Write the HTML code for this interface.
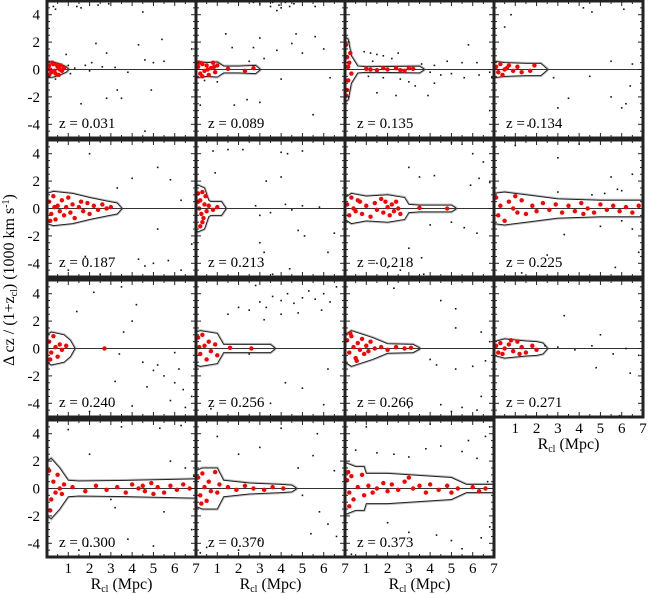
<!DOCTYPE html>
<html><head><meta charset="utf-8"><style>
body{margin:0;background:#fff;}
svg{display:block;font-family:"Liberation Serif",serif;}
</style></head><body>
<svg id="chart" width="648" height="594" viewBox="0 0 648 594" xmlns="http://www.w3.org/2000/svg"></svg>
<script>
const zLabels=["0.031","0.089","0.135","0.134","0.187","0.213","0.218","0.225","0.240","0.256","0.266","0.271","0.300","0.370","0.373"];
const envR=[
[0,0.3,0.6,0.9,1.0],[0,0.5,1.0,1.3,2.0,2.8,3.0],[0,0.15,0.3,0.6,1.0,3.5,3.7],[0,0.5,1.5,2.2,2.5],
[0,0.3,1.2,2.0,2.8,3.3,3.5],[0,0.1,0.4,0.6,0.7,1.2,1.4],[0,0.3,1.0,2.0,2.8,3.0,3.5,5.0,5.2],[0,0.5,1.5,3,5,6.5,7],
[0,0.2,0.8,1.1,1.3],[0,0.2,1.0,1.3,2.5,3.5,3.7],[0,0.3,1.3,2.0,3.2,3.5],[0,0.5,1.5,2.0,2.3,2.5],
[0,0.2,0.6,1.0,1.5,4.0,7.0],[0,0.3,1.0,1.3,2.5,4.0,4.5,4.7],[0,0.5,0.9,1.0,2.0,3.0,4.0,5.0,5.7,6.0,7.0]];
const envHW=[
[0.6,0.55,0.4,0.2,0.05],[0.6,0.5,0.55,0.25,0.25,0.3,0.05],[2.4,2.2,1.0,0.25,0.2,0.25,0.05],[0.6,0.5,0.45,0.45,0.05],
[1.1,1.25,1.1,0.8,0.55,0.4,0.05],[1.6,1.7,1.5,0.6,0.5,0.5,0.05],[0.8,1.1,0.9,1.0,0.8,0.3,0.25,0.25,0.05],[1.1,1.2,1.0,0.7,0.6,0.6,0.6],
[1.0,1.2,1.0,0.6,0.05],[1.2,1.3,1.1,0.3,0.3,0.3,0.05],[1.0,1.3,0.8,0.35,0.3,0.05],[0.5,0.7,0.55,0.5,0.4,0.05],
[2.0,2.2,1.5,0.6,0.55,0.6,0.7],[1.3,1.5,1.5,0.6,0.4,0.3,0.25,0.05],[1.9,1.6,1.6,1.1,1.1,1.0,0.9,0.8,0.3,0.3,0.3]];
const redPts=[
"0.1,0.3 0.2,-0.2 0.3,0.4 0.15,0.0 0.4,-0.3 0.5,0.2 0.6,0.0 0.25,0.5 0.35,-0.1 0.45,0.35 0.7,-0.1 0.55,-0.4 0.1,-0.4 0.8,0.1 0.65,0.3",
"0.1,0.2 0.2,-0.3 0.3,0.4 0.4,-0.1 0.5,0.3 0.6,-0.4 0.7,0.1 0.8,0.5 0.9,-0.2 1.0,0.3 0.3,-0.5 0.55,0.0 1.5,0.05 2.3,-0.1 2.7,0.1 0.15,0.5 0.85,0.2",
"0.05,1.8 0.1,0.9 0.15,-0.8 0.2,0.5 0.1,-1.5 0.25,1.2 0.3,-0.3 0.05,-1.9 0.15,0.2 1.0,0.05 1.5,-0.05 2.0,0.0 2.4,0.1 2.8,-0.1 3.2,0.05 1.8,0.1 2.6,-0.05 1.2,0.0 3.0,0.1",
"0.1,0.2 0.2,-0.2 0.3,0.4 0.5,0.0 0.7,0.3 0.9,-0.1 1.1,0.2 1.3,-0.2 0.4,-0.4 1.9,0.3 1.7,-0.1 0.6,0.1",
"0.1,0.5 0.2,-0.4 0.3,0.9 0.4,-0.8 0.5,0.2 0.6,-0.2 0.7,0.6 0.8,-0.5 0.9,0.1 1.0,0.8 1.1,-0.3 1.2,0.3 1.3,-0.7 1.5,0.1 1.6,0.5 1.7,-0.2 1.9,0.4 2.0,-0.4 2.2,0.2 2.4,-0.1 2.6,0.3 2.8,0.0 3.0,0.1 0.35,0.1 0.15,-0.9",
"0.1,1.1 0.2,0.6 0.3,1.2 0.15,0.0 0.25,-0.4 0.3,-1.0 0.4,0.3 0.2,-1.3 0.45,0.9 0.5,-0.2 0.6,0.2 0.8,-0.1 1.0,0.1 0.35,-0.7 0.1,0.5",
"0.1,0.3 0.2,-0.5 0.3,0.8 0.4,0.0 0.5,-0.2 0.7,0.5 0.8,-0.4 1.0,0.2 1.2,-0.6 1.4,0.4 1.5,-0.1 1.7,0.7 1.8,-0.3 2.0,0.1 2.1,-0.5 2.2,0.3 2.3,-0.2 2.4,0.5 2.5,0.0 2.6,-0.4 0.6,0.6 1.9,0.5 3.5,0.05 4.8,0.0",
"0.1,0.8 0.2,-0.5 0.3,0.2 0.5,-0.9 0.7,0.5 0.9,0.0 1.1,-0.3 1.3,0.6 1.5,-0.4 1.8,0.2 2.0,-0.2 2.3,0.4 2.6,-0.1 2.9,0.3 3.2,-0.3 3.5,0.2 3.8,-0.2 4.1,0.4 4.4,0.0 4.7,-0.3 5.0,0.3 5.3,-0.1 5.6,0.2 5.9,-0.2 6.2,0.1 6.5,-0.3 6.8,0.2 1.0,0.9 4.2,-0.4",
"0.1,0.5 0.2,-0.3 0.3,0.9 0.4,0.1 0.5,-0.6 0.6,0.3 0.7,-0.1 0.9,0.2 0.15,-0.8 2.7,0.0",
"0.1,0.8 0.2,-0.4 0.3,1.0 0.4,0.2 0.5,-0.8 0.6,0.5 0.7,-0.2 0.9,0.3 1.0,-0.5 0.15,0.1 1.6,0.05 2.6,0.0",
"0.1,0.6 0.2,-0.3 0.3,0.9 0.4,0.1 0.5,-0.7 0.6,0.4 0.7,-0.1 0.8,0.7 0.9,-0.4 1.0,0.2 1.1,-0.2 1.2,0.5 1.4,0.0 1.7,0.1 2.0,-0.1 2.4,0.1 2.8,0.0 3.1,0.05 0.25,1.1 0.55,-0.9",
"0.1,0.2 0.2,-0.3 0.3,0.4 0.5,0.0 0.7,0.3 0.9,-0.2 1.1,0.5 1.3,0.1 1.5,-0.3 1.8,0.2 2.0,-0.1 0.4,-0.4 0.8,0.6 1.2,-0.4",
"0.1,1.3 0.2,-0.8 0.3,0.5 0.4,-0.3 0.5,1.0 0.6,0.0 0.7,-0.4 0.8,0.3 0.15,-1.6 1.2,0.1 1.8,-0.2 2.3,0.2 2.8,-0.1 3.3,0.1 3.7,-0.3 4.0,0.3 4.3,0.0 4.6,-0.2 4.9,0.4 5.2,0.1 5.5,-0.3 5.8,0.2 6.1,-0.1 6.4,0.3 6.7,0.0 5.0,-0.4 4.5,0.2",
"0.1,0.8 0.2,-0.5 0.3,1.1 0.4,0.1 0.5,-0.9 0.6,0.5 0.7,-0.2 0.9,1.2 1.0,-0.3 1.1,0.3 0.25,-1.1 1.5,0.1 1.9,-0.1 2.3,0.2 2.7,0.0 3.2,-0.1 3.6,0.1 4.1,0.0",
"0.1,0.6 0.2,-0.3 0.15,1.2 0.3,0.9 0.4,-0.8 0.2,-1.3 0.6,0.1 0.8,1.0 0.9,-0.5 1.1,0.2 1.3,-0.3 1.5,0.0 1.8,0.4 2.0,-0.2 2.2,0.3 2.5,-0.1 2.8,0.5 3.0,0.8 3.2,0.0 3.5,0.2 3.8,-0.3 4.0,0.3 4.4,-0.1 4.8,0.2 5.0,-0.3 5.3,0.0 6.0,0.1 6.3,-0.2 6.6,0.0"];
const blackPts=[
"0.3,4.6 0.4,4.4 1.4,4.6 1.6,4.5 2.4,4.7 2.9,4.8 4.5,4.2 0.9,1.1 2.3,1.9 2.8,1.2 4.3,1.8 5.4,2.2 1.0,0.3 1.3,0.1 1.8,0.3 2.1,0.5 2.6,0.2 3.2,0.15 3.8,-0.2 4.6,0.7 5.0,0.5 5.5,0.6 1.1,-0.3 2.0,-0.1 3.3,-1.5 3.5,-2.1 4.9,-1.5 1.6,-2.5 4.6,-4.5 2.8,-2.1 0.4,-0.7 6.8,1.5",
"2.7,4.9 3.0,4.8 3.5,4.6 3.6,4.9 3.9,4.7 4.0,4.5 4.2,4.9 4.4,4.6 3.8,4.3 4.6,4.8 5.6,4.6 1.4,2.6 3.0,2.3 4.7,2.6 5.6,2.4 2.7,1.6 3.8,1.4 4.5,1.9 5.0,1.2 3.2,0.8 1.7,1.6 6.0,1.5 2.5,0.6 4.0,-0.7 6.3,-0.6 0.4,-0.8 1.0,-0.9 2.4,-2.2 3.0,-2.4 5.5,-3.3 1.8,-2.6 0.2,-2.6",
"0.9,1.3 1.2,1.2 1.5,1.1 1.8,1.0 2.2,0.8 2.5,1.2 1.3,0.6 3.6,0.4 4.2,0.3 4.8,0.6 5.5,0.5 6.2,0.5 4.0,-0.2 4.5,-0.4 5.0,-0.3 5.6,-0.6 6.3,-0.4 6.8,-0.2 1.1,-0.5 1.8,-0.6 2.6,-0.7 3.0,-0.9 1.5,-1.7 2.4,-1.9 3.9,-1.9 6.8,-3.0 3.3,-1.2 4.2,-1.0 6.9,-0.6 5.8,1.8",
"0.5,3.1 0.8,4.0 4.2,4.5 6.1,4.4 4.6,4.2 4.5,-0.5 5.5,0.6 3.0,-2.8 3.5,-2.1 5.5,-2.0 6.2,-2.5 6.4,-1.2 6.0,-2.8 2.8,-0.6 1.6,-4.1 6.5,0.4",
"2.0,4.0 5.2,3.0 5.8,2.1 3.3,1.5 4.0,2.2 6.3,0.6 5.2,-1.5 4.3,-3.7 4.6,-4.2 5.0,-4.0 5.7,-3.8 6.3,-4.5 1.8,-3.5 6.8,-2.6 2.5,-4.8 1.0,-4.5",
"0.8,4.2 1.5,4.3 2.2,4.3 4.0,4.1 4.3,4.0 5.0,4.2 0.9,2.6 3.3,2.0 4.0,2.3 3.0,-0.5 3.5,-0.3 4.2,0.3 4.5,-0.1 5.0,0.2 5.8,0.1 3.0,-2.5 3.2,-3.2 4.8,-1.6 5.1,-2.0 6.2,-3.2 4.4,-4.4 3.6,-4.8 6.5,-1.8 2.8,0.2",
"3.0,3.0 3.5,2.3 4.2,2.4 5.5,4.7 6.0,4.0 6.5,3.4 5.0,4.8 6.3,2.2 5.9,1.7 6.8,1.9 4.0,-1.2 5.0,-1.0 5.6,-1.4 6.2,-1.8 3.0,-2.9 3.6,-3.6 2.0,-4.3 2.6,-4.5 3.7,-4.8 1.5,-4.0",
"1.0,4.6 3.0,3.7 4.0,4.7 5.5,2.3 5.8,1.4 6.5,2.5 3.0,1.2 4.6,1.0 5.2,1.1 6.0,1.3 5.0,-1.3 6.5,-1.5 6.8,-3.2 3.3,-1.9 2.5,-3.4 5.7,-4.3 1.3,-4.7 6.0,-0.9",
"1.4,2.7 2.2,4.1 3.5,4.5 4.0,2.0 4.2,3.2 3.6,1.2 6.0,-0.3 4.5,-1.0 5.0,-1.6 5.5,-2.0 6.0,-2.5 6.4,-3.0 6.8,-3.5 5.8,-3.8 6.5,-4.3 4.7,-2.8 3.2,-2.4 4.0,-4.2 2.0,-4.6 5.2,-1.2 6.2,-1.5 3.4,-0.4",
"1.5,2.5 2.0,3.0 2.5,2.8 3.0,3.4 3.3,3.0 3.6,3.8 4.0,3.5 4.3,4.0 4.6,3.3 5.0,3.7 5.3,4.2 5.6,3.6 6.0,4.0 6.3,3.4 6.6,4.5 4.0,2.5 4.8,2.6 2.8,4.6 3.2,2.1 5.9,2.8 6.2,-1.5 4.2,-2.5 5.0,-2.9 3.5,-4.0 0.7,-4.4 6.0,-4.1 2.5,-0.4",
"2.3,4.4 4.5,3.5 5.2,2.9 6.4,1.2 5.2,1.5 4.0,-0.8 4.3,-1.2 5.2,-1.5 6.0,-1.3 6.6,-0.9 6.4,-3.5 4.5,-4.1 5.0,-4.6 5.5,-4.3 6.2,-4.5 3.0,-4.3 6.8,0.5",
"2.4,0.2 3.0,0.1 3.8,-0.1 4.6,0.2 5.6,-0.4 6.2,0.0 6.8,-0.5 3.3,2.4 5.0,1.0 6.4,-1.8 5.9,-4.9 4.8,-1.4",
"1.0,4.3 3.5,4.5 5.3,4.4 6.3,4.6 2.0,2.5 5.8,2.0 6.5,1.5 6.9,0.9 3.0,-0.8 5.5,-1.7 6.8,-3.0 1.5,-4.5 1.9,-4.2 2.5,-4.8 3.8,-3.7 5.0,-4.2 3.2,-1.4",
"1.0,3.8 2.0,2.5 3.0,3.0 4.8,1.5 5.5,2.4 5.7,4.0 4.0,4.4 6.5,1.3 5.0,-0.5 5.8,-1.7 6.2,-2.6 6.6,-3.5 3.0,-3.8 2.0,-4.5 0.5,-4.3 0.2,-4.7 5.4,-3.3",
"0.5,2.8 1.5,2.6 2.3,2.5 3.0,2.3 3.8,2.9 4.5,3.1 5.5,2.7 5.8,3.5 6.2,2.2 6.6,3.8 6.8,4.5 4.0,4.7 1.0,4.5 2.0,-2.5 3.0,-3.2 4.3,-3.4 5.0,-3.8 5.5,-4.4 6.4,-3.6 6.8,-2.8 0.3,-4.8 6.7,0.5"];
const yTicks=[-4,-2,0,2,4];
const xTicks=[1,2,3,4,5,6,7];

const NS="http://www.w3.org/2000/svg";
const svg=document.getElementById('chart');
const colX=[47,196,345,494], rowY=[1,140,280,420], W=149, H=137;
function mk(tag,attrs,parent){const e=document.createElementNS(NS,tag);for(const k in attrs)e.setAttribute(k,attrs[k]);(parent||svg).appendChild(e);return e;}
function parse(s){return s.trim().split(/\s+/).map(p=>p.split(',').map(Number));}

for(let i=0;i<15;i++){
  const c=i%4, r=Math.floor(i/4);
  const x0=colX[c], y0=rowY[r];
  const sx=v=>x0+v/7*W, sy=v=>y0+H/2-v*H/10;
  const g=mk('g',{});
  
  
  const zl=mk('line',{x1:x0,x2:x0+W,y1:sy(0),y2:sy(0),stroke:'#333','stroke-width':1},g);
  
  
  const R=envR[i], HW=envHW[i];
  let d='M'+sx(R[0])+','+sy(HW[0]);
  for(let k=1;k<R.length;k++) d+=' L'+sx(R[k])+','+sy(HW[k]);
  for(let k=R.length-1;k>=0;k--) d+=' L'+sx(R[k])+','+sy(-HW[k]);
  d+=' Z';
  mk('path',{d:d,fill:'none',stroke:'#bbb','stroke-width':3},g);
  const env=mk('path',{d:d,fill:'#fff',stroke:'#222','stroke-width':1},g);
  
  
  mk('line',{x1:x0,x2:x0+W,y1:sy(0),y2:sy(0),stroke:'#333','stroke-width':1},g);
  parse(blackPts[i]).forEach(p=>{
    const e=mk('rect',{x:sx(p[0])-0.8,y:sy(p[1])-0.8,width:1.6,height:1.6,fill:'#111'},g);
    
    
  });
  parse(redPts[i]).forEach(p=>{
    const e=mk('circle',{cx:sx(p[0]),cy:sy(p[1]),r:2.2,fill:'#ff0000'},g);
    
    
  });
  const tk=mk('g',{stroke:'#222','stroke-width':1},g);
  for(let v=0.5;v<7;v+=0.5){const M=Number.isInteger(v)?5:3;
    mk('line',{x1:sx(v),x2:sx(v),y1:y0+H,y2:y0+H-M},tk);mk('line',{x1:sx(v),x2:sx(v),y1:y0,y2:y0+M},tk);}
  for(let v=-4.5;v<5;v+=0.5){const M=(Math.abs(v)%2===0)?5:3;
    mk('line',{x1:x0,x2:x0+M,y1:sy(v),y2:sy(v)},tk);mk('line',{x1:x0+W,x2:x0+W-M,y1:sy(v),y2:sy(v)},tk);}
  const fr=mk('rect',{x:x0,y:y0,width:W,height:H,fill:'none',stroke:'#222','stroke-width':3},g);
  
  
  const zt=mk('text',{x:x0+12,y:y0+H-10,'font-size':15,fill:'#000'},g);
  zt.textContent='z = '+zLabels[i];
  
  
  if(c===0){
    yTicks.forEach(v=>{const t=mk('text',{x:x0-7,y:sy(v)+5,'font-size':15,'text-anchor':'end'});
      t.textContent=String(v);
      
      });
  }
  const isBottom=(r===3)||(r===2&&c===3);
  if(isBottom){
    xTicks.forEach(v=>{const t=mk('text',{x:sx(v),y:y0+H+16,'font-size':15,'text-anchor':'middle'});
      t.textContent=String(v);
      
      });
    const at=mk('text',{x:x0+W/2,y:y0+H+32,'font-size':16,'text-anchor':'middle'});
    at.innerHTML='R<tspan font-size="10" dy="3">cl</tspan><tspan dy="-3"> (Mpc)</tspan>';
    
    
  }
}
const yt=mk('text',{x:0,y:0,'font-size':16,'text-anchor':'middle',transform:'translate(14,280) rotate(-90)'});
yt.innerHTML='Δ cz / (1+z<tspan font-size="10" dy="3">cl</tspan><tspan dy="-3">) (1000 km s</tspan><tspan font-size="10" dy="-5">-1</tspan><tspan dy="5">)</tspan>';


</script>
</body></html>
